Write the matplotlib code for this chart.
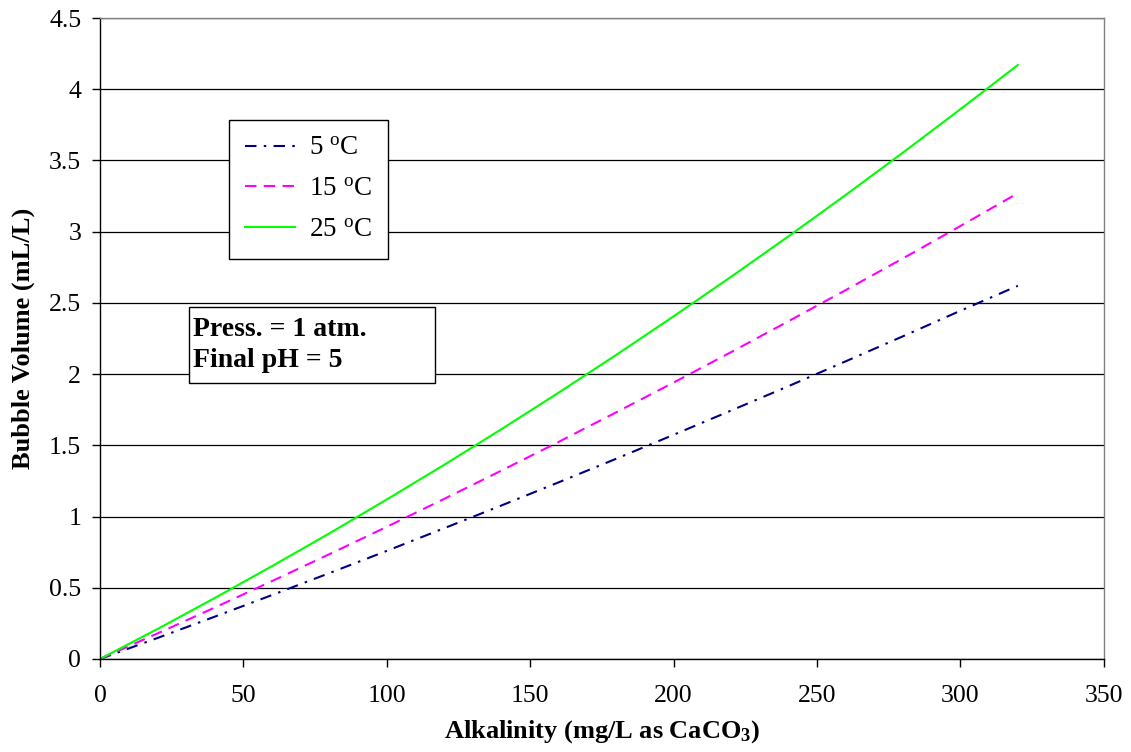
import matplotlib
matplotlib.use("Agg")
import matplotlib.pyplot as plt
from matplotlib.patches import Rectangle

plt.rcParams['font.family'] = ['Liberation Serif', 'DejaVu Serif']
plt.rcParams['mathtext.fontset'] = 'custom'
plt.rcParams['mathtext.rm'] = 'Liberation Serif'
plt.rcParams['mathtext.bf'] = 'Liberation Serif:bold'
plt.rcParams['mathtext.it'] = 'Liberation Serif:italic'

# Alkalinity (mg/L as CaCO3)
alkalinity = [0, 20, 40, 60, 80, 100, 120, 140, 160, 180, 200, 220, 240, 260, 280, 300, 320]

# Bubble volume (mL/L) at each temperature
vol_5c = [0, 0.147, 0.297, 0.449, 0.603, 0.759, 0.918, 1.078, 1.241, 1.406, 1.574,
          1.744, 1.915, 2.090, 2.266, 2.445, 2.620]
vol_15c = [0, 0.179, 0.361, 0.547, 0.736, 0.928, 1.124, 1.323, 1.525, 1.732, 1.941,
           2.154, 2.371, 2.590, 2.813, 3.040, 3.270]
vol_25c = [0, 0.210, 0.428, 0.652, 0.882, 1.120, 1.363, 1.614, 1.871, 2.135, 2.406,
           2.683, 2.967, 3.258, 3.556, 3.860, 4.170]

x_ticks = [0, 50, 100, 150, 200, 250, 300, 350]
y_ticks = [0, 0.5, 1, 1.5, 2, 2.5, 3, 3.5, 4, 4.5]
y_tick_labels = ['0', '0.5', '1', '1.5', '2', '2.5', '3', '3.5', '4', '4.5']

fig = plt.figure(figsize=(11.31, 7.52), dpi=100)
ax = fig.add_axes([0.0884, 0.1237, 0.8876, 0.8523])

ax.plot(alkalinity, vol_5c, color='#000080', lw=1.5, ls=(0, (5.5, 3.5, 1.2, 3.5)),
        label=r'5 $^{\mathrm{o}}$C')
ax.plot(alkalinity, vol_15c, color='#FF00FF', lw=1.5, ls=(0, (5.5, 3.5)),
        label=r'15 $^{\mathrm{o}}$C')
ax.plot(alkalinity, vol_25c, color='#00FF00', lw=1.5, ls='-',
        label=r'25 $^{\mathrm{o}}$C')

ax.set_xlim(0, 350)
ax.set_ylim(0, 4.5)
ax.set_xticks(x_ticks)
ax.set_yticks(y_ticks)
ax.set_yticklabels(y_tick_labels)
ax.tick_params(axis='both', direction='out', length=5.5, width=1, labelsize=18.5,
               colors='black')
ax.tick_params(axis='y', pad=8)
ax.tick_params(axis='x', pad=13)
ax.yaxis.grid(True, color='black', lw=0.9)
ax.set_axisbelow(True)
for side in ['top', 'right']:
    ax.spines[side].set_color('#808080')
    ax.spines[side].set_linewidth(1.0)
for side in ['left', 'bottom']:
    ax.spines[side].set_color('black')
    ax.spines[side].set_linewidth(1.0)

ax.set_xlabel(r'Alkalinity (mg/L as CaCO$_{\mathbf{3}}$)', fontsize=19,
              fontweight='bold', labelpad=8)
ax.set_ylabel('Bubble Volume (mL/L)', fontsize=19, fontweight='bold', labelpad=10)

leg = ax.legend(loc='upper left', bbox_to_anchor=(0.1285, 0.841), borderaxespad=0,
                fontsize=19.5, frameon=True, fancybox=False, edgecolor='black',
                framealpha=1, handlelength=1.85, handletextpad=0.5, borderpad=0.6,
                labelspacing=0.58)
leg.get_frame().set_linewidth(1.0)

# Conditions box
ax.add_patch(Rectangle((0.0886, 0.4306), 0.2451, 0.1184, transform=ax.transAxes,
                       facecolor='white', edgecolor='black', lw=1.0, zorder=5))
ax.text(0.0926, 0.4898, 'Press. = 1 atm.\nFinal pH = 5', transform=ax.transAxes,
        fontsize=20, fontweight='bold', va='center', ha='left', linespacing=1.35,
        zorder=6)

fig.savefig('out.png', dpi=100)
